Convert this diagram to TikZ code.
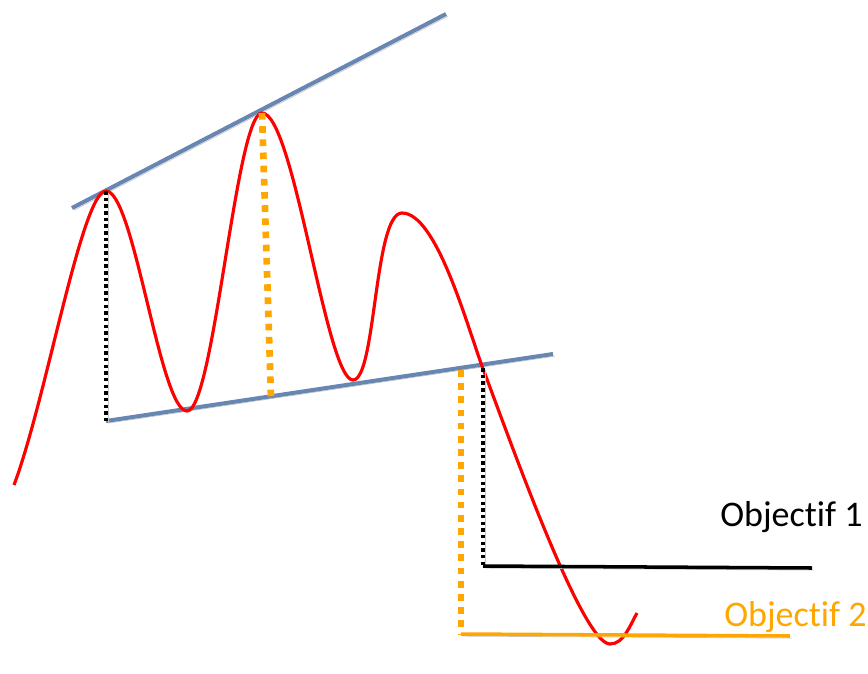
\documentclass[tikz,border=0pt]{standalone}
\usepackage{fontspec}
\setmainfont{Carlito}[Ligatures=CommonOff]
\usetikzlibrary{positioning,calc}
\definecolor{trendblue}{RGB}{104,134,178}
\definecolor{targetorange}{RGB}{255,166,0}
\definecolor{priceRed}{RGB}{255,0,0}
\tikzset{
  shadowed/.style={preaction={draw=black!22, transform canvas={xshift=1.2pt,yshift=-1.2pt}}},
  trend/.style={draw=trendblue, line width=2.3pt, shadowed},
  pricecurve/.style={draw=priceRed, line width=1.8pt},
  blackdots/.style={draw=black, line width=2pt, dash pattern=on 2pt off 1.8pt, shadowed},
  orangedots/.style={draw=targetorange, line width=3.8pt, dash pattern=on 3.8pt off 3.7pt},
  target/.style={line width=2pt, shadowed},
  targetlabel/.style={anchor=base west, inner sep=0pt, font=\fontsize{20.5}{24}\selectfont}
}
\begin{document}
\begin{tikzpicture}[x=0.02cm, y=-0.02cm]
  \useasboundingbox (0,0) rectangle (868,673);
  % trend lines
  \coordinate (upA) at (72,208);
  \coordinate (upB) at (446,14);
  \coordinate (lowA) at (106,421);
  \coordinate (lowB) at (553,354);
  % peaks, troughs and breakout
  \coordinate (pk1) at (106,191);
  \coordinate (pk2) at (262,113);
  \coordinate (pk2base) at (271,398);
  \coordinate (brk) at (483,368);
  \coordinate (brkO) at (461,370);
  % targets
  \coordinate (obj1A) at (483,566);
  \coordinate (obj1B) at (812,568);
  \coordinate (obj2A) at (461,634);
  \coordinate (obj2B) at (790,636);

  \draw [trend] (upA) -- (upB);
  \draw [trend] (lowA) -- (lowB);

  % price
  \draw [pricecurve] (14,485) .. controls (46,400) and (82,191) .. (pk1)
    .. controls (134,191) and (160,411) .. (187,411)
    .. controls (214,411) and (236,113) .. (pk2)
    .. controls (294,113) and (326,380) .. (353,380)
    .. controls (376,380) and (374,213) .. (402,213)
    .. controls (436,213) and (466,322) .. (482,366)
    .. controls (510,440) and (582,644) .. (610,644)
    .. controls (624,644) and (630,625) .. (637,613);

  % heights
  \draw [blackdots] (pk1) -- (lowA);
  \draw [orangedots] (pk2) -- (pk2base);
  \draw [blackdots] (brk) -- (obj1A);
  \draw [orangedots] (brkO) -- (obj2A);

  % objectives
  \draw [target, draw=black] (obj1A) -- (obj1B);
  \draw [target, draw=targetorange] (obj2A) -- (obj2B);
  \node [targetlabel] (lbl1) at (720,526) {Objectif 1};
  \node [targetlabel, text=targetorange] (lbl2) at (724,626) {Objectif 2};
\end{tikzpicture}
\end{document}
